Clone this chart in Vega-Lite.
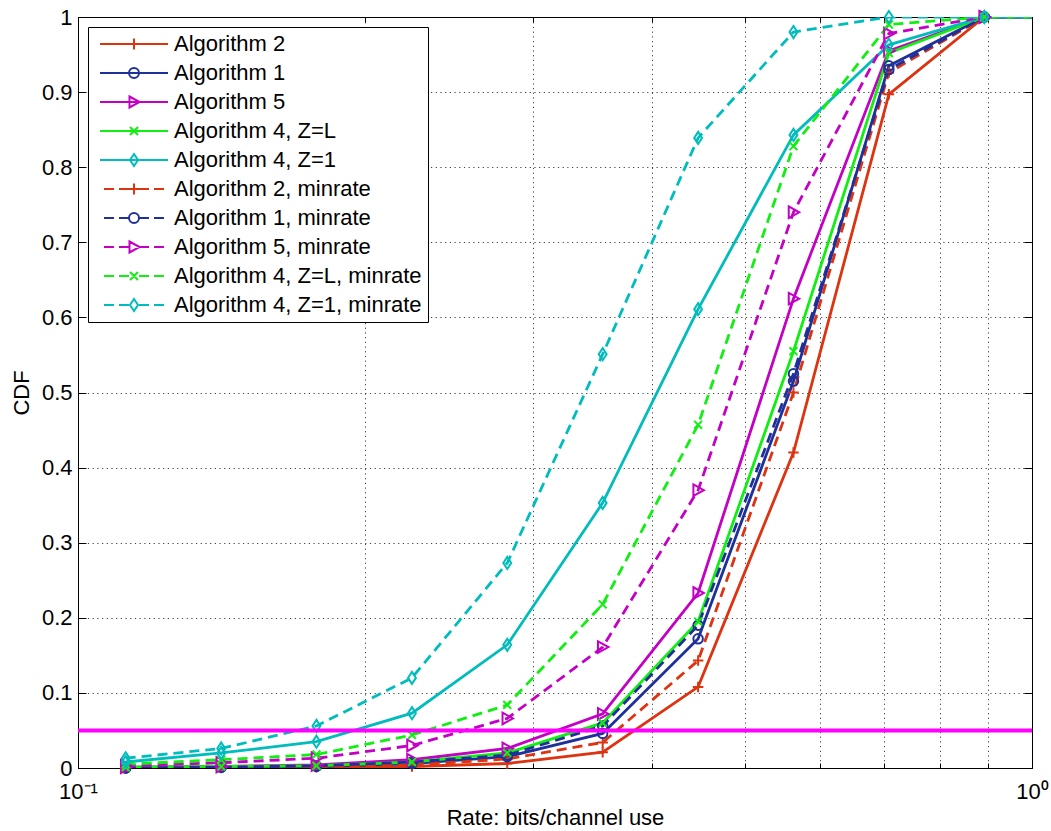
{
  "$schema": "https://vega.github.io/schema/vega-lite/v6.json",
  "autosize": {"type": "none"},
  "padding": {"left": 78, "top": 17, "right": 19, "bottom": 63},
  "width": 954,
  "height": 751,
  "background": "white",
  "data": {"values": [
    {"series": "Algorithm 2", "rate": 0.1122, "cdf": 0},
    {"series": "Algorithm 2", "rate": 0.1413, "cdf": 0},
    {"series": "Algorithm 2", "rate": 0.1778, "cdf": 0.001},
    {"series": "Algorithm 2", "rate": 0.2239, "cdf": 0.002},
    {"series": "Algorithm 2", "rate": 0.2818, "cdf": 0.006},
    {"series": "Algorithm 2", "rate": 0.3548, "cdf": 0.021},
    {"series": "Algorithm 2", "rate": 0.4467, "cdf": 0.108},
    {"series": "Algorithm 2", "rate": 0.5623, "cdf": 0.42},
    {"series": "Algorithm 2", "rate": 0.7079, "cdf": 0.897},
    {"series": "Algorithm 2", "rate": 0.8913, "cdf": 1},
    {"series": "Algorithm 2", "rate": 1.0, "cdf": 1},
    {"series": "Algorithm 1", "rate": 0.1122, "cdf": 0},
    {"series": "Algorithm 1", "rate": 0.1413, "cdf": 0.001},
    {"series": "Algorithm 1", "rate": 0.1778, "cdf": 0.002},
    {"series": "Algorithm 1", "rate": 0.2239, "cdf": 0.006},
    {"series": "Algorithm 1", "rate": 0.2818, "cdf": 0.015},
    {"series": "Algorithm 1", "rate": 0.3548, "cdf": 0.046},
    {"series": "Algorithm 1", "rate": 0.4467, "cdf": 0.172},
    {"series": "Algorithm 1", "rate": 0.5623, "cdf": 0.515},
    {"series": "Algorithm 1", "rate": 0.7079, "cdf": 0.935},
    {"series": "Algorithm 1", "rate": 0.8913, "cdf": 1},
    {"series": "Algorithm 1", "rate": 1.0, "cdf": 1},
    {"series": "Algorithm 5", "rate": 0.1122, "cdf": 0.001},
    {"series": "Algorithm 5", "rate": 0.1413, "cdf": 0.002},
    {"series": "Algorithm 5", "rate": 0.1778, "cdf": 0.004},
    {"series": "Algorithm 5", "rate": 0.2239, "cdf": 0.011},
    {"series": "Algorithm 5", "rate": 0.2818, "cdf": 0.026},
    {"series": "Algorithm 5", "rate": 0.3548, "cdf": 0.072},
    {"series": "Algorithm 5", "rate": 0.4467, "cdf": 0.233},
    {"series": "Algorithm 5", "rate": 0.5623, "cdf": 0.625},
    {"series": "Algorithm 5", "rate": 0.7079, "cdf": 0.955},
    {"series": "Algorithm 5", "rate": 0.8913, "cdf": 1},
    {"series": "Algorithm 5", "rate": 1.0, "cdf": 1},
    {"series": "Algorithm 4, Z=L", "rate": 0.1122, "cdf": 0.001},
    {"series": "Algorithm 4, Z=L", "rate": 0.1413, "cdf": 0.002},
    {"series": "Algorithm 4, Z=L", "rate": 0.1778, "cdf": 0.003},
    {"series": "Algorithm 4, Z=L", "rate": 0.2239, "cdf": 0.008},
    {"series": "Algorithm 4, Z=L", "rate": 0.2818, "cdf": 0.02},
    {"series": "Algorithm 4, Z=L", "rate": 0.3548, "cdf": 0.06},
    {"series": "Algorithm 4, Z=L", "rate": 0.4467, "cdf": 0.195},
    {"series": "Algorithm 4, Z=L", "rate": 0.5623, "cdf": 0.555},
    {"series": "Algorithm 4, Z=L", "rate": 0.7079, "cdf": 0.952},
    {"series": "Algorithm 4, Z=L", "rate": 0.8913, "cdf": 1},
    {"series": "Algorithm 4, Z=L", "rate": 1.0, "cdf": 1},
    {"series": "Algorithm 4, Z=1", "rate": 0.1122, "cdf": 0.008},
    {"series": "Algorithm 4, Z=1", "rate": 0.1413, "cdf": 0.02},
    {"series": "Algorithm 4, Z=1", "rate": 0.1778, "cdf": 0.035},
    {"series": "Algorithm 4, Z=1", "rate": 0.2239, "cdf": 0.073},
    {"series": "Algorithm 4, Z=1", "rate": 0.2818, "cdf": 0.164},
    {"series": "Algorithm 4, Z=1", "rate": 0.3548, "cdf": 0.353},
    {"series": "Algorithm 4, Z=1", "rate": 0.4467, "cdf": 0.611},
    {"series": "Algorithm 4, Z=1", "rate": 0.5623, "cdf": 0.843},
    {"series": "Algorithm 4, Z=1", "rate": 0.7079, "cdf": 0.963},
    {"series": "Algorithm 4, Z=1", "rate": 0.8913, "cdf": 1},
    {"series": "Algorithm 4, Z=1", "rate": 1.0, "cdf": 1},
    {"series": "Algorithm 2, minrate", "rate": 0.1122, "cdf": 0},
    {"series": "Algorithm 2, minrate", "rate": 0.1413, "cdf": 0.001},
    {"series": "Algorithm 2, minrate", "rate": 0.1778, "cdf": 0.002},
    {"series": "Algorithm 2, minrate", "rate": 0.2239, "cdf": 0.004},
    {"series": "Algorithm 2, minrate", "rate": 0.2818, "cdf": 0.012},
    {"series": "Algorithm 2, minrate", "rate": 0.3548, "cdf": 0.034},
    {"series": "Algorithm 2, minrate", "rate": 0.4467, "cdf": 0.143},
    {"series": "Algorithm 2, minrate", "rate": 0.5623, "cdf": 0.5},
    {"series": "Algorithm 2, minrate", "rate": 0.7079, "cdf": 0.926},
    {"series": "Algorithm 2, minrate", "rate": 0.8913, "cdf": 1},
    {"series": "Algorithm 2, minrate", "rate": 1.0, "cdf": 1},
    {"series": "Algorithm 1, minrate", "rate": 0.1122, "cdf": 0},
    {"series": "Algorithm 1, minrate", "rate": 0.1413, "cdf": 0.001},
    {"series": "Algorithm 1, minrate", "rate": 0.1778, "cdf": 0.003},
    {"series": "Algorithm 1, minrate", "rate": 0.2239, "cdf": 0.008},
    {"series": "Algorithm 1, minrate", "rate": 0.2818, "cdf": 0.017},
    {"series": "Algorithm 1, minrate", "rate": 0.3548, "cdf": 0.056},
    {"series": "Algorithm 1, minrate", "rate": 0.4467, "cdf": 0.19},
    {"series": "Algorithm 1, minrate", "rate": 0.5623, "cdf": 0.525},
    {"series": "Algorithm 1, minrate", "rate": 0.7079, "cdf": 0.93},
    {"series": "Algorithm 1, minrate", "rate": 0.8913, "cdf": 1},
    {"series": "Algorithm 1, minrate", "rate": 1.0, "cdf": 1},
    {"series": "Algorithm 5, minrate", "rate": 0.1122, "cdf": 0.003},
    {"series": "Algorithm 5, minrate", "rate": 0.1413, "cdf": 0.007},
    {"series": "Algorithm 5, minrate", "rate": 0.1778, "cdf": 0.013},
    {"series": "Algorithm 5, minrate", "rate": 0.2239, "cdf": 0.03},
    {"series": "Algorithm 5, minrate", "rate": 0.2818, "cdf": 0.066},
    {"series": "Algorithm 5, minrate", "rate": 0.3548, "cdf": 0.161},
    {"series": "Algorithm 5, minrate", "rate": 0.4467, "cdf": 0.37},
    {"series": "Algorithm 5, minrate", "rate": 0.5623, "cdf": 0.74},
    {"series": "Algorithm 5, minrate", "rate": 0.7079, "cdf": 0.978},
    {"series": "Algorithm 5, minrate", "rate": 0.8913, "cdf": 1},
    {"series": "Algorithm 5, minrate", "rate": 1.0, "cdf": 1},
    {"series": "Algorithm 4, Z=L, minrate", "rate": 0.1122, "cdf": 0.005},
    {"series": "Algorithm 4, Z=L, minrate", "rate": 0.1413, "cdf": 0.011},
    {"series": "Algorithm 4, Z=L, minrate", "rate": 0.1778, "cdf": 0.018},
    {"series": "Algorithm 4, Z=L, minrate", "rate": 0.2239, "cdf": 0.044},
    {"series": "Algorithm 4, Z=L, minrate", "rate": 0.2818, "cdf": 0.084},
    {"series": "Algorithm 4, Z=L, minrate", "rate": 0.3548, "cdf": 0.218},
    {"series": "Algorithm 4, Z=L, minrate", "rate": 0.4467, "cdf": 0.457},
    {"series": "Algorithm 4, Z=L, minrate", "rate": 0.5623, "cdf": 0.828},
    {"series": "Algorithm 4, Z=L, minrate", "rate": 0.7079, "cdf": 0.99},
    {"series": "Algorithm 4, Z=L, minrate", "rate": 0.8913, "cdf": 1},
    {"series": "Algorithm 4, Z=L, minrate", "rate": 1.0, "cdf": 1},
    {"series": "Algorithm 4, Z=1, minrate", "rate": 0.1122, "cdf": 0.013},
    {"series": "Algorithm 4, Z=1, minrate", "rate": 0.1413, "cdf": 0.026},
    {"series": "Algorithm 4, Z=1, minrate", "rate": 0.1778, "cdf": 0.056},
    {"series": "Algorithm 4, Z=1, minrate", "rate": 0.2239, "cdf": 0.12},
    {"series": "Algorithm 4, Z=1, minrate", "rate": 0.2818, "cdf": 0.273},
    {"series": "Algorithm 4, Z=1, minrate", "rate": 0.3548, "cdf": 0.551},
    {"series": "Algorithm 4, Z=1, minrate", "rate": 0.4467, "cdf": 0.839},
    {"series": "Algorithm 4, Z=1, minrate", "rate": 0.5623, "cdf": 0.98},
    {"series": "Algorithm 4, Z=1, minrate", "rate": 0.7079, "cdf": 1},
    {"series": "Algorithm 4, Z=1, minrate", "rate": 0.8913, "cdf": 1},
    {"series": "Algorithm 4, Z=1, minrate", "rate": 1.0, "cdf": 1}
  ]},
  "resolve": {"axis": {"x": "independent", "y": "independent"}},
  "layer": [
    {
      "transform": [{"filter": "indexof(datum.series, 'minrate') < 0"}],
      "mark": {"type": "line", "strokeWidth": 2.8, "clip": true},
      "encoding": {
        "x": {"field": "rate", "type": "quantitative",
          "scale": {"type": "log", "domain": [0.1, 1], "nice": false},
          "axis": {"orient": "bottom", "title": "Rate: bits/channel use",
            "values": [0.1, 0.2, 0.3, 0.4, 0.5, 0.6, 0.7, 0.8, 0.9, 1.0],
            "labelExpr": "abs(datum.value - 0.1) < 0.000001 ? '10⁻¹' : (abs(datum.value - 1) < 0.000001 ? '10⁰' : '')",
            "grid": true, "gridDash": [1.2, 3.5], "gridColor": "#000", "gridOpacity": 0.75,
            "tickSize": -5, "labelPadding": 18, "titlePadding": 5, "labelFlush": false, "labelOverlap": false}},
        "y": {"field": "cdf", "type": "quantitative",
          "scale": {"domain": [0, 1], "nice": false},
          "axis": {"orient": "left", "title": "CDF",
            "values": [0, 0.1, 0.2, 0.3, 0.4, 0.5, 0.6, 0.7, 0.8, 0.9, 1],
            "format": "~g",
            "grid": true, "gridDash": [1.2, 3.5], "gridColor": "#000", "gridOpacity": 0.75,
            "tickSize": -8, "labelPadding": 14, "titlePadding": 8, "labelFlush": false}},
        "color": {"field": "series", "type": "nominal",
          "scale": {"domain": ["Algorithm 2", "Algorithm 1", "Algorithm 5", "Algorithm 4, Z=L", "Algorithm 4, Z=1", "Algorithm 2, minrate", "Algorithm 1, minrate", "Algorithm 5, minrate", "Algorithm 4, Z=L, minrate", "Algorithm 4, Z=1, minrate"],
            "range": ["#DD3311", "#20309A", "#C400C4", "#11EE11", "#00BCBC", "#DD3311", "#20309A", "#C400C4", "#11EE11", "#00BCBC"]}}
      }
    },
    {
      "transform": [{"filter": "indexof(datum.series, 'minrate') >= 0"}],
      "mark": {"type": "line", "strokeWidth": 2.8, "strokeDash": [10, 6], "clip": true},
      "encoding": {
        "x": {"field": "rate", "type": "quantitative", "axis": null},
        "y": {"field": "cdf", "type": "quantitative", "axis": null},
        "color": {"field": "series", "type": "nominal"}
      }
    },
    {
      "transform": [{"filter": {"field": "series", "oneOf": ["Algorithm 2", "Algorithm 2, minrate"]}}, {"filter": "datum.rate < 0.95"}],
      "mark": {"type": "point", "shape": "M-1,0H1M0,-1V1", "filled": false, "size": 110, "strokeWidth": 2, "opacity": 1},
      "encoding": {
        "x": {"field": "rate", "type": "quantitative", "axis": null},
        "y": {"field": "cdf", "type": "quantitative", "axis": null},
        "color": {"field": "series", "type": "nominal"}
      }
    },
    {
      "transform": [{"filter": {"field": "series", "oneOf": ["Algorithm 1", "Algorithm 1, minrate"]}}, {"filter": "datum.rate < 0.95"}],
      "mark": {"type": "point", "shape": "circle", "filled": false, "size": 90, "strokeWidth": 2, "opacity": 1},
      "encoding": {
        "x": {"field": "rate", "type": "quantitative", "axis": null},
        "y": {"field": "cdf", "type": "quantitative", "axis": null},
        "color": {"field": "series", "type": "nominal"}
      }
    },
    {
      "transform": [{"filter": {"field": "series", "oneOf": ["Algorithm 5", "Algorithm 5, minrate"]}}, {"filter": "datum.rate < 0.95"}],
      "mark": {"type": "point", "shape": "M-0.9,-1.1L1.1,0L-0.9,1.1Z", "filled": false, "size": 110, "strokeWidth": 2, "opacity": 1},
      "encoding": {
        "x": {"field": "rate", "type": "quantitative", "axis": null},
        "y": {"field": "cdf", "type": "quantitative", "axis": null},
        "color": {"field": "series", "type": "nominal"}
      }
    },
    {
      "transform": [{"filter": {"field": "series", "oneOf": ["Algorithm 4, Z=L", "Algorithm 4, Z=L, minrate"]}}, {"filter": "datum.rate < 0.95"}],
      "mark": {"type": "point", "shape": "M-0.75,-0.75L0.75,0.75M-0.75,0.75L0.75,-0.75", "filled": false, "size": 110, "strokeWidth": 2, "opacity": 1},
      "encoding": {
        "x": {"field": "rate", "type": "quantitative", "axis": null},
        "y": {"field": "cdf", "type": "quantitative", "axis": null},
        "color": {"field": "series", "type": "nominal"}
      }
    },
    {
      "transform": [{"filter": {"field": "series", "oneOf": ["Algorithm 4, Z=1", "Algorithm 4, Z=1, minrate"]}}, {"filter": "datum.rate < 0.95"}],
      "mark": {"type": "point", "shape": "M0,-1.15L0.75,0L0,1.15L-0.75,0Z", "filled": false, "size": 110, "strokeWidth": 2, "opacity": 1},
      "encoding": {
        "x": {"field": "rate", "type": "quantitative", "axis": null},
        "y": {"field": "cdf", "type": "quantitative", "axis": null},
        "color": {"field": "series", "type": "nominal"}
      }
    },
    {
      "transform": [{"filter": "datum.rate > 5"}],
      "mark": {"type": "point", "filled": false, "strokeWidth": 2},
      "encoding": {
        "x": {"field": "rate", "type": "quantitative",
          "axis": {"orient": "top", "title": null, "labels": false, "grid": false, "domain": false,
            "values": [0.1, 0.2, 0.3, 0.4, 0.5, 0.6, 0.7, 0.8, 0.9, 1.0], "tickSize": -5}},
        "y": {"field": "cdf", "type": "quantitative",
          "axis": {"orient": "right", "title": null, "labels": false, "grid": false, "domain": false,
            "values": [0, 0.1, 0.2, 0.3, 0.4, 0.5, 0.6, 0.7, 0.8, 0.9, 1], "tickSize": -8}},
        "color": {"field": "series", "type": "nominal", "legend": {"title": null}},
        "shape": {"field": "series", "type": "nominal", "legend": {"title": null},
          "scale": {"domain": ["Algorithm 2", "Algorithm 1", "Algorithm 5", "Algorithm 4, Z=L", "Algorithm 4, Z=1", "Algorithm 2, minrate", "Algorithm 1, minrate", "Algorithm 5, minrate", "Algorithm 4, Z=L, minrate", "Algorithm 4, Z=1, minrate"],
            "range": [
              "M-3.4,0H3.4M0,-0.55V0.55",
              "M-3.4,0H3.4M0.5,0A0.5,0.5,0,1,1,-0.5,0A0.5,0.5,0,1,1,0.5,0",
              "M-3.4,0H3.4M-0.45,-0.55L0.55,0L-0.45,0.55Z",
              "M-3.4,0H3.4M-0.4,-0.4L0.4,0.4M-0.4,0.4L0.4,-0.4",
              "M-3.4,0H3.4M0,-0.6L0.4,0L0,0.6L-0.4,0Z",
              "M-3,0H-2M-1.5,0H-0.5M0.5,0H1.5M2,0H3M-0.55,0H0.55M0,-0.55V0.55",
              "M-3,0H-2M-1.5,0H-0.5M0.5,0H1.5M2,0H3M0.5,0A0.5,0.5,0,1,1,-0.5,0A0.5,0.5,0,1,1,0.5,0",
              "M-3,0H-2M-1.5,0H-0.5M0.5,0H1.5M2,0H3M-0.45,-0.55L0.55,0L-0.45,0.55Z",
              "M-3,0H-2M-1.5,0H-0.5M0.5,0H1.5M2,0H3M-0.4,-0.4L0.4,0.4M-0.4,0.4L0.4,-0.4",
              "M-3,0H-2M-1.5,0H-0.5M0.5,0H1.5M2,0H3M0,-0.6L0.4,0L0,0.6L-0.4,0Z"
            ]}}
      }
    },
    {
      "data": {"values": [{"level": 0.05}]},
      "mark": {"type": "rule", "color": "#FF00FF", "strokeWidth": 4},
      "encoding": {
        "y": {"field": "level", "type": "quantitative", "axis": null}
      }
    }
  ],
  "config": {
    "font": "Liberation Sans",
    "view": {"stroke": "#000", "strokeWidth": 1},
    "axis": {"labelFont": "Liberation Sans", "labelFontSize": 22, "labelColor": "#000",
      "titleFont": "Liberation Sans", "titleFontSize": 22, "titleFontWeight": "normal", "titleColor": "#000",
      "domainColor": "#000", "tickColor": "#000", "tickWidth": 1},
    "legend": {"orient": "top-left", "offset": 10, "padding": 6, "fillColor": "white", "strokeColor": "#000",
      "symbolSize": 400, "symbolStrokeWidth": 2, "symbolOffset": 29, "labelOffset": 29,
      "labelFont": "Liberation Sans", "labelFontSize": 22, "labelColor": "#000", "labelLimit": 600,
      "rowPadding": 7, "symbolOpacity": 1}
  }
}
